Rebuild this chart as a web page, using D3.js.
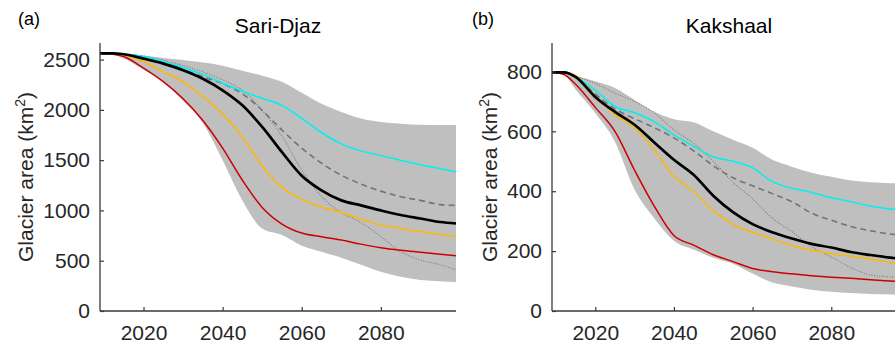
<!DOCTYPE html>
<html>
<head>
<meta charset="utf-8">
<script src="https://cdn.jsdelivr.net/npm/d3@7"></script>
<style>
  body { margin: 0; background: #fff; }
  svg { display: block; font-family: "Liberation Sans", Arial, sans-serif; }
</style>
</head>
<body>
<svg id="chart" width="895" height="349"></svg>
<script>
var years = [2009, 2012, 2015, 2020, 2025, 2030, 2035, 2040, 2045, 2050, 2055, 2060, 2065, 2070, 2075, 2080, 2085, 2090, 2095, 2099];
var xTicks = [2020, 2040, 2060, 2080];

// Sari-Djaz
var sariLow    = [2561, 2550, 2512, 2400, 2280, 2090, 1870, 1500, 1100, 820, 755, 650, 590, 530, 460, 390, 340, 308, 295, 288];
var sariHigh   = [2561, 2561, 2560, 2540, 2515, 2495, 2470, 2440, 2390, 2340, 2280, 2170, 2060, 1980, 1915, 1880, 1862, 1852, 1850, 1850];
var sariCyan   = [2561, 2561, 2555, 2530, 2482, 2420, 2355, 2265, 2185, 2115, 2045, 1915, 1775, 1662, 1592, 1545, 1500, 1455, 1415, 1385];
var sariDashed = [2561, 2561, 2555, 2525, 2470, 2400, 2330, 2260, 2160, 1995, 1800, 1620, 1470, 1350, 1262, 1192, 1137, 1100, 1058, 1050];
var sariDotted = [2561, 2561, 2555, 2535, 2495, 2440, 2380, 2300, 2195, 1995, 1740, 1400, 1140, 980, 880, 740, 590, 507, 460, 410];
var sariBlack  = [2561, 2561, 2553, 2510, 2460, 2395, 2310, 2195, 2045, 1830, 1580, 1345, 1200, 1100, 1050, 1000, 955, 920, 885, 870];
var sariOrange = [2561, 2560, 2545, 2478, 2380, 2275, 2130, 1960, 1730, 1440, 1230, 1110, 1035, 980, 915, 855, 822, 788, 760, 740];
var sariRed    = [2561, 2556, 2530, 2415, 2280, 2110, 1895, 1620, 1300, 1030, 865, 775, 738, 705, 665, 630, 605, 585, 565, 550];
var sariYTicks = [0, 500, 1000, 1500, 2000, 2500];

// Kakshaal
var kakLow    = [797, 790, 740, 661, 565, 405, 310, 235, 205, 178, 158, 125, 95, 82, 71, 64, 60, 57, 55, 54];
var kakHigh   = [797, 795, 785, 767, 745, 705, 665, 640, 630, 600, 572, 545, 505, 482, 462, 448, 436, 430, 427, 425];
var kakCyan   = [797, 797, 782, 738, 683, 662, 632, 588, 550, 515, 500, 478, 432, 410, 396, 378, 365, 350, 341, 338];
var kakDashed = [797, 797, 782, 725, 675, 642, 612, 578, 535, 485, 445, 418, 392, 365, 327, 303, 282, 268, 257, 252];
var kakDotted = [797, 797, 785, 760, 728, 700, 662, 605, 560, 500, 430, 375, 310, 265, 215, 180, 145, 120, 114, 110];
var kakBlack  = [797, 797, 782, 715, 665, 622, 563, 505, 455, 385, 330, 290, 263, 242, 224, 212, 197, 187, 178, 172];
var kakOrange = [797, 797, 787, 718, 655, 612, 538, 450, 400, 335, 290, 262, 240, 218, 203, 192, 183, 173, 162, 155];
var kakRed    = [797, 790, 757, 680, 600, 470, 350, 252, 220, 188, 165, 142, 131, 124, 118, 113, 109, 104, 100, 97];
var kakYTicks = [0, 200, 400, 600, 800];

var svg = d3.select('#chart');

function drawPanel(opt) {
  var x = d3.scaleLinear().domain([2009, 2099]).range([opt.left, opt.right]);
  var y = d3.scaleLinear().domain([0, opt.yMax]).range([opt.bottom, opt.top]);

  var g = svg.append('g');

  var area = d3.area()
      .curve(d3.curveMonotoneX)
      .x(function(d, i) { return x(years[i]); })
      .y0(function(d, i) { return y(opt.low[i]); })
      .y1(function(d, i) { return y(opt.high[i]); });

  var line = d3.line()
      .curve(d3.curveMonotoneX)
      .x(function(d, i) { return x(years[i]); })
      .y(function(d) { return y(d); });

  g.append('path')
      .attr('d', area(years))
      .attr('fill', '#bfbfbf');

  var series = [
    { v: opt.dotted, color: '#7a7a7a', width: 1.1, dash: '1,1.6' },
    { v: opt.dashed, color: '#737373', width: 1.6, dash: '6,4' },
    { v: opt.red,    color: '#cc0000', width: 1.5 },
    { v: opt.orange, color: '#ffb800', width: 1.5 },
    { v: opt.cyan,   color: '#00f0f0', width: 1.5 },
    { v: opt.black,  color: '#000000', width: 2.7 }
  ];

  g.selectAll('path.series')
      .data(series)
    .enter().append('path')
      .attr('class', 'series')
      .attr('d', function(s) { return line(s.v); })
      .attr('fill', 'none')
      .attr('stroke', function(s) { return s.color; })
      .attr('stroke-width', function(s) { return s.width; })
      .attr('stroke-dasharray', function(s) { return s.dash || null; });

  // axes, MATLAB style: ticks inside, no box
  var yAxis = g.append('g')
      .attr('transform', 'translate(' + opt.left + ',0)')
      .call(d3.axisLeft(y).tickValues(opt.yTicks).tickSize(-4).tickPadding(10)
        .tickFormat(d3.format('d')).tickSizeOuter(0));
  var xAxis = g.append('g')
      .attr('transform', 'translate(0,' + opt.bottom + ')')
      .call(d3.axisBottom(x).tickValues(xTicks).tickSize(-4).tickPadding(14)
        .tickFormat(d3.format('d')).tickSizeOuter(0));

  [yAxis, xAxis].forEach(function(a) {
    a.select('.domain').attr('stroke', '#3a3a3a').attr('stroke-width', 1.3);
    a.selectAll('.tick line').attr('stroke', '#3a3a3a').attr('stroke-width', 1.2);
    a.selectAll('.tick text')
        .attr('fill', '#262626')
        .style('font-size', '21px')
        .style('font-family', '"Liberation Sans", Arial, sans-serif');
  });
  // y axis line runs up to the top of the plot
  yAxis.select('.domain').attr('d', 'M0,' + opt.top + 'V' + opt.bottom);
  xAxis.select('.domain').attr('d', 'M' + opt.left + ',0H' + opt.right);

  svg.append('text')
      .attr('x', (opt.left + opt.right) / 2)
      .attr('y', 33)
      .attr('text-anchor', 'middle')
      .style('font-size', '21px')
      .attr('fill', '#000')
      .text(opt.title);

  svg.append('text')
      .attr('x', opt.tagX)
      .attr('y', 25)
      .style('font-size', '18px')
      .attr('fill', '#000')
      .text(opt.tag);

  var lab = svg.append('text')
      .attr('transform', 'translate(' + opt.labelX + ',' + ((opt.top + opt.bottom) / 2) + ') rotate(-90)')
      .attr('text-anchor', 'middle')
      .style('font-size', '21px')
      .attr('fill', '#262626');
  lab.append('tspan').text('Glacier area (km');
  lab.append('tspan').attr('dy', -8).style('font-size', '14px').text('2');
  lab.append('tspan').attr('dy', 8).text(')');
}

drawPanel({
  left: 100, right: 456, top: 43, bottom: 311, yMax: 2665,
  low: sariLow, high: sariHigh, cyan: sariCyan, dashed: sariDashed, dotted: sariDotted,
  black: sariBlack, orange: sariOrange, red: sariRed, yTicks: sariYTicks,
  title: 'Sari-Djaz', tag: '(a)', tagX: 18, labelX: 33
});

drawPanel({
  left: 552, right: 906, top: 43, bottom: 311, yMax: 895,
  low: kakLow, high: kakHigh, cyan: kakCyan, dashed: kakDashed, dotted: kakDotted,
  black: kakBlack, orange: kakOrange, red: kakRed, yTicks: kakYTicks,
  title: 'Kakshaal', tag: '(b)', tagX: 472, labelX: 497
});
</script>
</body>
</html>
